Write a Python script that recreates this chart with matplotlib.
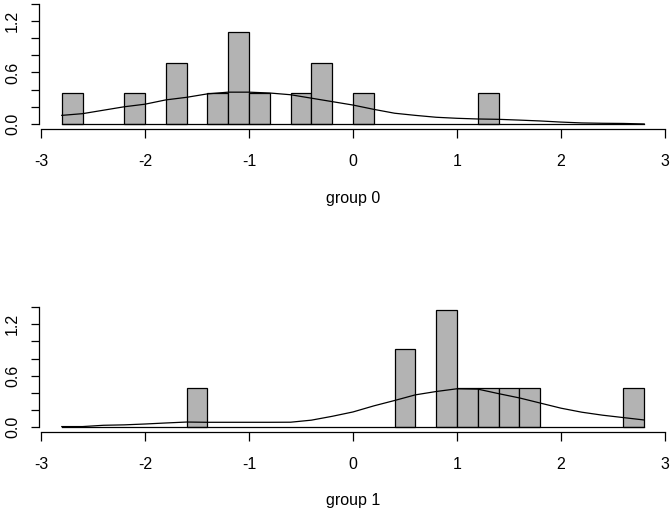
import matplotlib
matplotlib.use("Agg")
import matplotlib.pyplot as plt
import numpy as np

plt.rcParams['font.family'] = ['Liberation Sans', 'DejaVu Sans']

bin_width = 0.2
# group 0 histogram (bin left edges, counts)
g0_left = [-2.8, -2.2, -1.8, -1.4, -1.2, -1.0, -0.6, -0.4, 0.0, 1.2]
g0_count = [1, 1, 2, 1, 3, 1, 1, 2, 1, 1]
# group 1 histogram
g1_left = [-1.6, 0.4, 0.8, 1.0, 1.2, 1.4, 1.6, 2.6]
g1_count = [1, 2, 3, 1, 1, 1, 1, 1]

# density curves
dens_x = [-2.8, -2.6, -2.4, -2.2, -2.0, -1.8, -1.6, -1.4, -1.2, -1.0, -0.8, -0.6,
          -0.4, -0.2, 0.0, 0.2, 0.4, 0.6, 0.8, 1.0, 1.2, 1.4, 1.6, 1.8, 2.0, 2.2,
          2.4, 2.6, 2.8]
g0_dens = [0.10, 0.12, 0.16, 0.20, 0.23, 0.28, 0.31, 0.35, 0.37, 0.37, 0.36, 0.34,
           0.30, 0.26, 0.22, 0.17, 0.125, 0.10, 0.078, 0.066, 0.058, 0.054, 0.045,
           0.035, 0.022, 0.012, 0.008, 0.006, 0.0]
g1_dens = [0.005, 0.005, 0.02, 0.025, 0.035, 0.047, 0.058, 0.055, 0.055, 0.055, 0.055,
           0.056, 0.08, 0.125, 0.176, 0.247, 0.31, 0.376, 0.415, 0.447, 0.443, 0.39,
           0.34, 0.28, 0.22, 0.173, 0.138, 0.11, 0.082]

x_ticks = [-3, -2, -1, 0, 1, 2, 3]
y_ticks = [0.0, 0.2, 0.4, 0.6, 0.8, 1.0, 1.2, 1.4]
y_labels = ['0.0', '', '', '0.6', '', '', '1.2', '']
titles = ['group 0', 'group 1']

W, H = 672, 516
fig = plt.figure(figsize=(W / 100, H / 100), dpi=100)

left = 39 / W
width = (665 - 39) / W
xlim = (-3 - 2 / 104, 3)

panels = [
    dict(bottom=(H - 129.3) / H, height=129.3 / H, ylim=(-0.062, 1.442),
         left_edges=g0_left, counts=g0_count, dens=g0_dens, label_y=198),
    dict(bottom=(H - 432.3) / H, height=132.3 / H, ylim=(-0.062, 1.485),
         left_edges=g1_left, counts=g1_count, dens=g1_dens, label_y=500),
]

for p, title in zip(panels, titles):
    ax = fig.add_axes([left, p['bottom'], width, p['height']])
    n = sum(p['counts'])
    heights = [c / (n * bin_width) for c in p['counts']]
    ax.bar(p['left_edges'], heights, width=bin_width, align='edge',
           color='#b3b3b3', edgecolor='black', linewidth=0.9, zorder=2)
    ax.axhline(0, xmin=0, xmax=1, color='black', lw=0.9, zorder=1)
    # baseline only spans histogram range
    ax.lines[-1].remove()
    ax.plot([-2.8, 2.8], [0, 0], color='black', lw=0.9, zorder=3)
    ax.plot(dens_x, p['dens'], color='black', lw=0.9, zorder=4)
    ax.set_xlim(*xlim)
    ax.set_ylim(*p['ylim'])
    for s in ['top', 'right']:
        ax.spines[s].set_visible(False)
    ax.spines['bottom'].set_bounds(-3, 3)
    ax.spines['left'].set_bounds(0, 1.4)
    for s in ['bottom', 'left']:
        ax.spines[s].set_linewidth(0.9)
    ax.set_xticks(x_ticks)
    ax.set_xticklabels([str(v) for v in x_ticks])
    ax.set_yticks(y_ticks)
    ax.set_yticklabels(y_labels, rotation=90, va='center')
    ax.tick_params(axis='x', length=6.5, width=0.9, pad=11, labelsize=11.5)
    ax.tick_params(axis='y', length=5.5, width=0.9, pad=8, labelsize=11.5)
    ax.patch.set_alpha(0)
    fig.text(353 / W, 1 - p['label_y'] / H, title, ha='center', va='center',
             fontsize=11.5)

fig.savefig('out.png', dpi=100)
